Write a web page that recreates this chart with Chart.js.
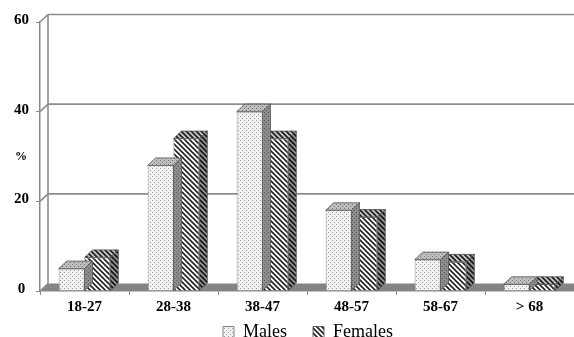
<!DOCTYPE html>
<html>
<head>
<meta charset="utf-8">
<script src="https://cdn.jsdelivr.net/npm/chart.js@4.4.0/dist/chart.umd.min.js"></script>
<style>
  html, body { margin: 0; padding: 0; background: #fff; }
  #wrap { width: 574px; height: 337px; }
</style>
</head>
<body>
<div id="wrap"><canvas id="myChart" width="574" height="337"></canvas></div>
<script>
const labels = ['18-27', '28-38', '38-47', '48-57', '58-67', '> 68'];
const males = [5, 28, 40, 18, 7, 1.5];
const females = [7.5, 34, 34, 16.5, 6.5, 1.5];
const legends = ['Males', 'Females'];
const yTicks = [0, 20, 40, 60];

// depth of the fake 3d
const DX = 8, DY = -7.5;

Chart.defaults.font.family = '"Liberation Serif", serif';

function dotPattern(bg, dot) {
    var c = document.createElement('canvas');
    c.width = 4; c.height = 4;
    var g = c.getContext('2d');
    g.fillStyle = bg;
    g.fillRect(0, 0, 4, 4);
    g.fillStyle = dot;
    g.fillRect(0, 0, 1, 1);
    g.fillRect(2, 2, 1, 1);
    return g.createPattern(c, 'repeat');
}

function stripePattern(bg, fg) {
    var s = 5;
    var c = document.createElement('canvas');
    c.width = s; c.height = s;
    var g = c.getContext('2d');
    g.fillStyle = bg;
    g.fillRect(0, 0, s, s);
    g.strokeStyle = fg;
    g.lineWidth = 1.7;
    for (var o = -s; o <= s; o += s) {
        g.beginPath();
        g.moveTo(o - 1, -1);
        g.lineTo(o + s + 1, s + 1);
        g.stroke();
    }
    return g.createPattern(c, 'repeat');
}

const maleFront = dotPattern('#f2f2f2', '#999999');
const femaleFront = stripePattern('#ffffff', '#262626');

function poly(ctx, pts, fill, shade) {
    ctx.beginPath();
    ctx.moveTo(pts[0][0], pts[0][1]);
    for (var i = 1; i < pts.length; i++) ctx.lineTo(pts[i][0], pts[i][1]);
    ctx.closePath();
    ctx.fillStyle = fill;
    ctx.fill();
    ctx.fillStyle = shade;
    ctx.fill();
    ctx.strokeStyle = '#555';
    ctx.lineWidth = 0.8;
    ctx.stroke();
}

const wall3d = {
    id: 'wall3d',
    afterLayout(chart) {
        // legend sits a bit right of centre in the original
        chart.legend.left += 21;
        chart.legend.right += 21;
    },
    beforeDatasetsDraw(chart) {
        const ctx = chart.ctx, a = chart.chartArea, y = chart.scales.y;
        ctx.save();
        // floor
        ctx.beginPath();
        ctx.moveTo(a.left, a.bottom);
        ctx.lineTo(a.left + DX, a.bottom + DY);
        ctx.lineTo(a.right + DX, a.bottom + DY);
        ctx.lineTo(a.right, a.bottom);
        ctx.closePath();
        ctx.fillStyle = '#848484';
        ctx.fill();
        // back wall grid
        ctx.strokeStyle = '#8c8c8c';
        ctx.lineWidth = 1.6;
        yTicks.forEach(function (v) {
            var py = y.getPixelForValue(v);
            if (v > 0) {
                ctx.beginPath();
                ctx.moveTo(a.left + DX, py + DY);
                ctx.lineTo(chart.width, py + DY);
                ctx.stroke();
            }
            ctx.beginPath();
            ctx.moveTo(a.left, py);
            ctx.lineTo(a.left + DX, py + DY);
            ctx.stroke();
        });
        ctx.beginPath();
        ctx.moveTo(a.left + DX, a.top + DY);
        ctx.lineTo(a.left + DX, a.bottom + DY);
        ctx.stroke();
        // % label
        ctx.fillStyle = '#000';
        ctx.font = 'bold 12px "Liberation Serif"';
        ctx.textAlign = 'center';
        ctx.textBaseline = 'middle';
        ctx.fillText('%', 21, 157);
        ctx.restore();
    },
    afterDatasetDraw(chart, args) {
        const ctx = chart.ctx;
        const meta = args.meta;
        const isMale = args.index === 0;
        ctx.save();
        meta.data.forEach(function (bar) {
            var l = bar.x - bar.width / 2, r = bar.x + bar.width / 2;
            var top = bar.y, base = bar.base;
            var f = isMale ? maleFront : femaleFront;
            poly(ctx, [[l, top], [l + DX, top + DY], [r + DX, top + DY], [r, top]], f, 'rgba(0,0,0,0.22)');
            poly(ctx, [[r, top], [r + DX, top + DY], [r + DX, base + DY], [r, base]], f, 'rgba(0,0,0,0.42)');
        });
        ctx.restore();
    }
};

const data = {
    labels: labels,
    datasets: [{
        label: legends[0],
        data: males,
        backgroundColor: maleFront,
        borderColor: '#666',
        borderWidth: 0.8
    }, {
        label: legends[1],
        data: females,
        backgroundColor: femaleFront,
        borderColor: '#444',
        borderWidth: 0.8
    }]
};

const config = {
    type: 'bar',
    data: data,
    options: {
        responsive: false,
        animation: false,
        layout: { padding: { top: 22, right: 0, left: 0, bottom: -14 } },
        datasets: { bar: { categoryPercentage: 0.58, barPercentage: 1 } },
        scales: {
            x: {
                grid: { drawOnChartArea: false, drawTicks: true, tickLength: 4, color: '#888', offset: true },
                border: { color: '#888', width: 1.5 },
                ticks: {
                    color: '#000', padding: 3,
                    font: { size: 15, weight: 'bold' }
                },
                afterFit: function (s) { s.height = 24; }
            },
            y: {
                min: 0, max: 60,
                grid: { drawOnChartArea: false, drawTicks: true, tickLength: 4, color: '#888' },
                border: { color: '#888', width: 1.5 },
                ticks: {
                    stepSize: 20, color: '#000', padding: 7,
                    crossAlign: 'center', labelOffset: -2,
                    font: { size: 15, weight: 'bold' }
                },
                afterFit: function (s) { s.width = 40; }
            }
        },
        plugins: {
            legend: {
                position: 'bottom',
                labels: {
                    color: '#000', boxWidth: 11, boxHeight: 11, padding: 8,
                    font: { size: 18 },
                    generateLabels: function (chart) {
                        var items = Chart.defaults.plugins.legend.labels.generateLabels(chart);
                        // wider gap after the first entry, as in the original
                        items[0].text = items[0].text + '\u00a0\u00a0\u00a0\u00a0';
                        return items;
                    }
                }
            },
            tooltip: { enabled: false }
        }
    },
    plugins: [wall3d]
};

var myChart = new Chart(document.getElementById('myChart'), config);
</script>
</body>
</html>
